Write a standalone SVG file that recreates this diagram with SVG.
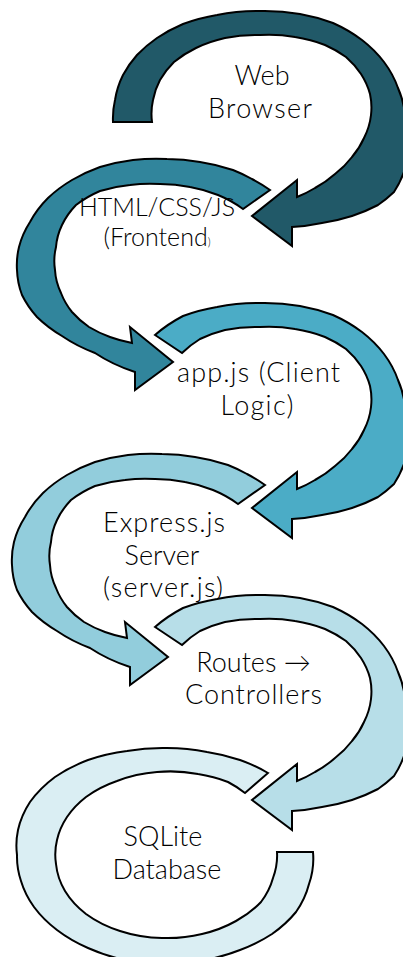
<svg xmlns="http://www.w3.org/2000/svg" width="403" height="957" viewBox="0 0 403 957">
<style>
.arc{stroke:#000;stroke-width:2;stroke-linejoin:miter;stroke-miterlimit:10}
.t{font-family:Lato,"Liberation Sans",sans-serif;font-weight:300;font-size:27px;fill:#000;text-anchor:middle}
</style>
<defs>
<path id="rightArc" d="M155,43 A150 110 0 0 1 183,24 A150 110 0 0 1 217,15 A150 110 0 0 1 258,11 A150 110 0 0 1 300,14 A150 110 0 0 1 333,23 A150 110 0 0 1 362,40 A150 110 0 0 1 384,62 A150 110 0 0 1 398,88 A150 110 0 0 1 405,115 A150 110 0 0 1 408,145 A150 110 0 0 1 404,172 A150 110 0 0 1 394,192 A150 110 0 0 1 378,205 A150 110 0 0 1 352,216 A150 110 0 0 1 322,223 A150 110 0 0 1 292,227 L292,246 L252,216 L297,180 L297,197 A112 84 0 0 0 315,188 A112 84 0 0 0 335,174 A112 84 0 0 0 352,157 A112 84 0 0 0 364,138 A112 84 0 0 0 371,115 A112 84 0 0 0 370,94 A112 84 0 0 0 361,74 A112 84 0 0 0 346,57 A112 84 0 0 0 325,45 A112 84 0 0 0 295,37 A112 84 0 0 0 260,35 A112 84 0 0 0 225,38 A112 84 0 0 0 200,47 A112 84 0 0 0 182,61 Z"/>
<path id="leftArc" d="M270,190 A148 105 0 0 0 252,179 A148 105 0 0 0 233,170 A148 105 0 0 0 200,162 A148 105 0 0 0 167,159 A148 105 0 0 0 133,160 A148 105 0 0 0 100,167 A148 105 0 0 0 72,180 A148 105 0 0 0 48,198 A148 105 0 0 0 30,222 A148 105 0 0 0 19,247 A148 105 0 0 0 17,270 A148 105 0 0 0 22,295 A148 105 0 0 0 37,317 A148 105 0 0 0 62,336 A148 105 0 0 0 95,353 A148 105 0 0 0 135,372 L135,390 L173,362 L130,327 L132,343 A110 80 0 0 1 110,337 A110 80 0 0 1 89,327 A110 80 0 0 1 72,312 A110 80 0 0 1 61,293 A110 80 0 0 1 55,270 A110 80 0 0 1 56,247 A110 80 0 0 1 62,225 A110 80 0 0 1 76,205 A110 80 0 0 1 100,191 A110 80 0 0 1 130,185 A110 80 0 0 1 160,184 A110 80 0 0 1 190,187 A110 80 0 0 1 218,195 A110 80 0 0 1 243,209 Z"/>
</defs>

<g id="node-web-browser">
<path class="arc" fill="#215968" d="M113,122 A150 110 0 0 1 115,100 A150 110 0 0 1 123,75 A150 110 0 0 1 137,55 A150 110 0 0 1 157,38 A150 110 0 0 1 183,24 A150 110 0 0 1 217,15 A150 110 0 0 1 258,11 A150 110 0 0 1 300,14 A150 110 0 0 1 333,23 A150 110 0 0 1 362,40 A150 110 0 0 1 384,62 A150 110 0 0 1 398,88 A150 110 0 0 1 405,115 A150 110 0 0 1 408,145 A150 110 0 0 1 404,172 A150 110 0 0 1 394,192 A150 110 0 0 1 378,205 A150 110 0 0 1 352,216 A150 110 0 0 1 322,223 A150 110 0 0 1 292,227 L292,246 L252,216 L297,180 L297,197 A112 84 0 0 0 315,188 A112 84 0 0 0 335,174 A112 84 0 0 0 352,157 A112 84 0 0 0 364,138 A112 84 0 0 0 371,115 A112 84 0 0 0 370,94 A112 84 0 0 0 361,74 A112 84 0 0 0 346,57 A112 84 0 0 0 325,45 A112 84 0 0 0 295,37 A112 84 0 0 0 260,35 A112 84 0 0 0 225,38 A112 84 0 0 0 196,48 A112 84 0 0 0 174,62 A112 84 0 0 0 160,80 A112 84 0 0 0 153,100 A112 84 0 0 0 152,122 Z"/>
<text class="t" x="262" y="85.25">Web</text>
<text class="t" x="260" y="117.75" textLength="104">Browser</text>
</g>
<g id="node-frontend">
<use href="#leftArc" class="arc" fill="#31859C"/>
<text class="t" x="157" y="216" style="font-size:25px">HTML/CSS/JS</text>
<text class="t" x="157" y="246.2" style="font-size:25px">(Frontend<tspan style="font-size:11px">)</tspan></text>
</g>
<g id="node-client-logic">
<use href="#rightArc" class="arc" fill="#4BACC6" transform="translate(0,292)"/>
<text class="t" x="258.5" y="382.25" textLength="163">app.js (Client</text>
<text class="t" x="257" y="414.75" textLength="73">Logic)</text>
</g>
<g id="node-express">
<use href="#leftArc" class="arc" fill="#92CDDC" transform="translate(-5,295)"/>
<text class="t" x="164" y="532" textLength="122">Express.js</text>
<text class="t" x="162" y="564.5">Server</text>
<text class="t" x="163" y="597" textLength="120">(server.js)</text>
</g>
<g id="node-routes">
<use href="#rightArc" class="arc" fill="#B7DEE8" transform="translate(0,584)"/>
<text class="t" x="253.5" y="671.75">Routes →</text>
<text class="t" x="253.5" y="704.25" textLength="137">Controllers</text>
</g>
<g id="node-sqlite">
<path class="arc" fill="#DAEEF3" d="M268,773 A148 105 0 0 0 240,760 A148 105 0 0 0 207,752 A148 105 0 0 0 167,748 A148 105 0 0 0 127,751 A148 105 0 0 0 88,760 A148 105 0 0 0 55,777 A148 105 0 0 0 30,802 A148 105 0 0 0 18,830 A148 105 0 0 0 17,855 A148 105 0 0 0 21,881 A148 105 0 0 0 34,907 A148 105 0 0 0 57,930 A148 105 0 0 0 88,948 A148 105 0 0 0 125,960 A148 105 0 0 0 165,964 A148 105 0 0 0 205,960 A148 105 0 0 0 240,950 A148 105 0 0 0 272,934 A148 105 0 0 0 296,912 A148 105 0 0 0 309,884 A148 105 0 0 0 313,852 L277,852 A110 82 0 0 1 273,878 A110 82 0 0 1 261,902 A110 82 0 0 1 236,921 A110 82 0 0 1 202,934 A110 82 0 0 1 162,938 A110 82 0 0 1 120,931 A110 82 0 0 1 86,914 A110 82 0 0 1 65,891 A110 82 0 0 1 56,864 A110 82 0 0 1 57,840 A110 82 0 0 1 67,817 A110 82 0 0 1 86,797 A110 82 0 0 1 117,781 A110 82 0 0 1 157,772 A110 82 0 0 1 198,774 A110 82 0 0 1 228,782 A110 82 0 0 1 245,793 Z"/>
<text class="t" x="163" y="846.25">SQLite</text>
<text class="t" x="167" y="878.75">Database</text>
</g>

<g id="connectors"></g>
</svg>
